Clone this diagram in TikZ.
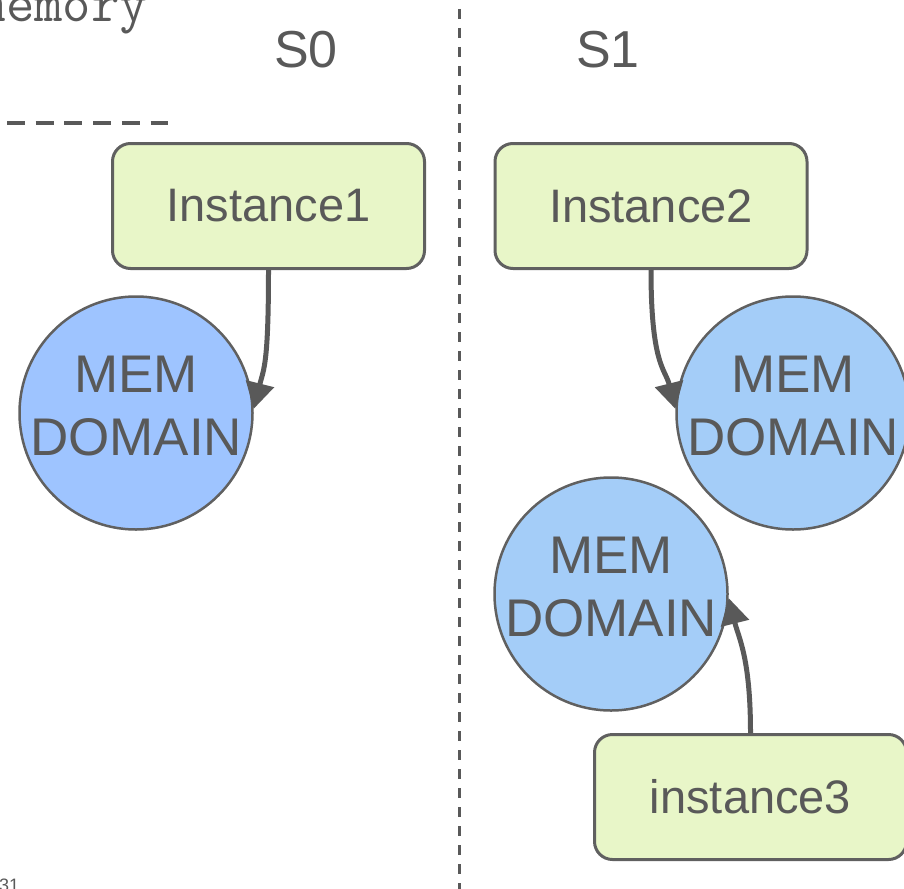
\documentclass[tikz,border=0pt]{standalone}
\usepackage{fontspec}
\setmainfont{Liberation Sans}
\usetikzlibrary{arrows.meta}
\definecolor{inkgray}{HTML}{595959}
\definecolor{edgegray}{HTML}{606060}
\definecolor{boxgreen}{HTML}{E8F6C8}
\definecolor{domblue}{HTML}{9EC4FF}
\definecolor{domblueb}{HTML}{A4CDF8}
\tikzset{
  instbox/.style={draw=edgegray, line width=3pt, fill=boxgreen, rounded corners=18pt,
    minimum width=312pt, minimum height=125pt, inner sep=0pt, text=inkgray,
    font=\fontsize{47}{54}\selectfont},
  memdom/.style={circle, draw=edgegray, line width=2.5pt, fill=domblueb, minimum size=233pt,
    inner sep=0pt},
  domtext/.style={text=inkgray, align=center, inner sep=0pt, yshift=7pt,
    font=\fontsize{53}{63}\selectfont},
  sidelabel/.style={text=inkgray, font=\fontsize{52}{60}\selectfont},
  link/.style={draw=inkgray, line width=5pt, -{Triangle[length=26pt,width=28pt]}},
  divider/.style={draw=inkgray, line width=3pt, dash pattern=on 10pt off 9pt}
}
\begin{document}
\begin{tikzpicture}[x=1pt,y=-1pt]
\useasboundingbox (0,0) rectangle (904,888);
% header text and its underline
\node[anchor=base east, inner sep=0pt, text=inkgray, font=\ttfamily\fontsize{55}{60}\selectfont] (hdr) at (148,22) {memory};
\coordinate (ulA) at (7,123);
\coordinate (ulB) at (168,123);
\draw[draw=inkgray, line width=3.5pt, dash pattern=on 18pt off 10.7pt] (ulA) -- (ulB);
% page number
\node[anchor=base west, inner sep=0pt, text=inkgray, font=\fontsize{18}{20}\selectfont] (pg) at (-1,891) {31};
% socket divider
\coordinate (dvA) at (459,9);
\coordinate (dvB) at (459,900);
\draw[divider] (dvA) -- (dvB);
% socket labels
\node[sidelabel] (s0) at (306,50) {S0};
\node[sidelabel] (s1) at (608,50) {S1};
% instances
\node[instbox] (i1) at (268.5,206) {\raisebox{-2pt}{Instance1}};
\node[instbox] (i2) at (651,206) {\raisebox{-2pt}{Instance2}};
\node[instbox] (i3) at (750.5,797) {instance3};
% memory domains
\node[memdom, fill=domblue] (m0) at (136,413) {};
\node[memdom] (m1) at (793,413) {};
\node[memdom] (m2) at (611,594) {};
\node[domtext] (t0) at (m0) {MEM\\DOMAIN};
\node[domtext] (t1) at (m1) {MEM\\DOMAIN};
\node[domtext] (t2) at (m2) {MEM\\DOMAIN};
% attachments
\draw[link] (i1.south) .. controls +(0,95) and +(10,-40) .. (m0.2);
\draw[link] (i2.south) .. controls +(0,95) and +(-10,-40) .. (m1.178);
\draw[link] (i3.north) .. controls +(0,-75) and +(10,40) .. (m2.-2);
\end{tikzpicture}
\end{document}
